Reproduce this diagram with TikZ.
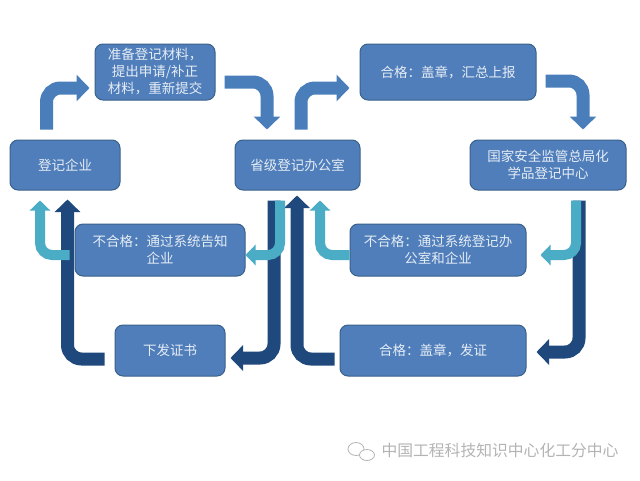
\documentclass[tikz,border=0pt]{standalone}
\usepackage{fontspec}
\setmainfont{Noto Sans CJK SC}
\usetikzlibrary{arrows.meta}
\definecolor{boxfill}{HTML}{4F7EBB}
\definecolor{boxline}{HTML}{3A6189}
\definecolor{arrblue}{HTML}{4A7EBB}
\definecolor{arrlight}{HTML}{4BACC6}
\definecolor{arrdark}{HTML}{1F497D}
\definecolor{boxtext}{HTML}{E6EDF5}
\definecolor{markgray}{HTML}{B4B4B4}
\tikzset{
  x=1pt,y=-1pt,
  stepbox/.style={draw=boxline,line width=1pt,fill=boxfill,rounded corners=8pt,inner sep=0pt,
    align=center,text=boxtext,font=\fontsize{13.5}{17}\selectfont},
  bluearr/.style={draw=arrblue,line width=13pt,rounded corners=14pt,-{Triangle[length=13pt,width=26pt]}},
  darkarr/.style={draw=arrdark,line width=13pt,rounded corners=14pt,-{Triangle[length=12.5pt,width=25pt]}},
  lightarr/.style={draw=arrlight,line width=10pt,rounded corners=12pt,-{Triangle[length=10pt,width=20pt]}},
  markline/.style={draw=markgray,line width=0.8pt,fill=white},
}
\begin{document}
\begin{tikzpicture}
\useasboundingbox (0,0) rectangle (640,480);
\fill[white] (0,0) rectangle (640,480);
\node[stepbox,minimum width=110pt,minimum height=50pt] (reg) at (65,165) {登记企业};
\node[stepbox,minimum width=120pt,minimum height=56pt] (prep) at (155,72) {准备登记材料，\\提出申请/补正\\材料，重新提交};
\node[stepbox,minimum width=125pt,minimum height=50pt] (prov) at (297.5,165) {省级登记办公室};
\node[stepbox,minimum width=176pt,minimum height=56pt] (sum) at (448,72) {合格：盖章，汇总上报};
\node[stepbox,minimum width=156pt,minimum height=50pt] (state) at (548,165) {国家安全监管总局化\\学品登记中心};
\node[stepbox,minimum width=170pt,minimum height=52pt] (failone) at (160,250) {不合格：通过系统告知\\企业};
\node[stepbox,minimum width=110pt,minimum height=51pt] (cert) at (170,350.5) {下发证书};
\node[stepbox,minimum width=176pt,minimum height=52pt] (failtwo) at (438,250) {不合格：通过系统登记办\\公室和企业};
\node[stepbox,minimum width=186pt,minimum height=51pt] (ok) at (433,350.5) {合格：盖章，发证};
% top row
\draw[bluearr] ([xshift=-18.5pt,yshift=10pt]reg.north) |- ([xshift=-5pt,yshift=-16pt]prep.west);
\draw[bluearr] ([xshift=9pt,yshift=-10pt]prep.east) -| ([xshift=-30.5pt,yshift=10pt]prov.north);
\draw[bluearr] ([xshift=3.5pt,yshift=10pt]prov.north) |- ([xshift=-10pt,yshift=-16pt]sum.west);
\draw[bluearr] ([xshift=9pt,yshift=-9pt]sum.east) -| ([xshift=35pt,yshift=10pt]state.north);
% dark
\draw[darkarr] ([xshift=-10pt,yshift=-8.5pt]cert.west) -| ([xshift=2.5pt,yshift=-9pt]reg.south);
\draw[darkarr] ([xshift=-23.5pt,yshift=-10pt]prov.south) |- ([xshift=5pt,yshift=-7.5pt]cert.east);
\draw[darkarr] ([xshift=-5pt,yshift=-8.5pt]ok.west) -| ([xshift=-0.5pt,yshift=-5pt]prov.south);
\draw[darkarr] ([xshift=31pt,yshift=-10pt]state.south) |- ([xshift=10pt,yshift=-1.5pt]ok.east);
% light
\draw[lightarr] ([xshift=-5pt,yshift=-5pt]failone.west) -| ([xshift=-25pt,yshift=-10pt]reg.south);
\draw[lightarr] ([xshift=-17.5pt,yshift=-10pt]prov.south) |- ([yshift=-5pt]failone.east);
\draw[lightarr] ([yshift=-5pt]failtwo.west) -| ([xshift=22.5pt,yshift=-10pt]prov.south);
\draw[lightarr] ([xshift=28pt,yshift=-10pt]state.south) |- ([xshift=14pt,yshift=-5pt]failtwo.east);
% watermark
\draw[markline] (356,449) ellipse (8pt and 6.5pt);
\draw[markline] (367,455) ellipse (7.5pt and 5.5pt);
\node[text=markgray,inner sep=0pt,font=\fontsize{15.8}{18}\selectfont] (mark) at (500,451) {中国工程科技知识中心化工分中心};
\end{tikzpicture}
\end{document}
